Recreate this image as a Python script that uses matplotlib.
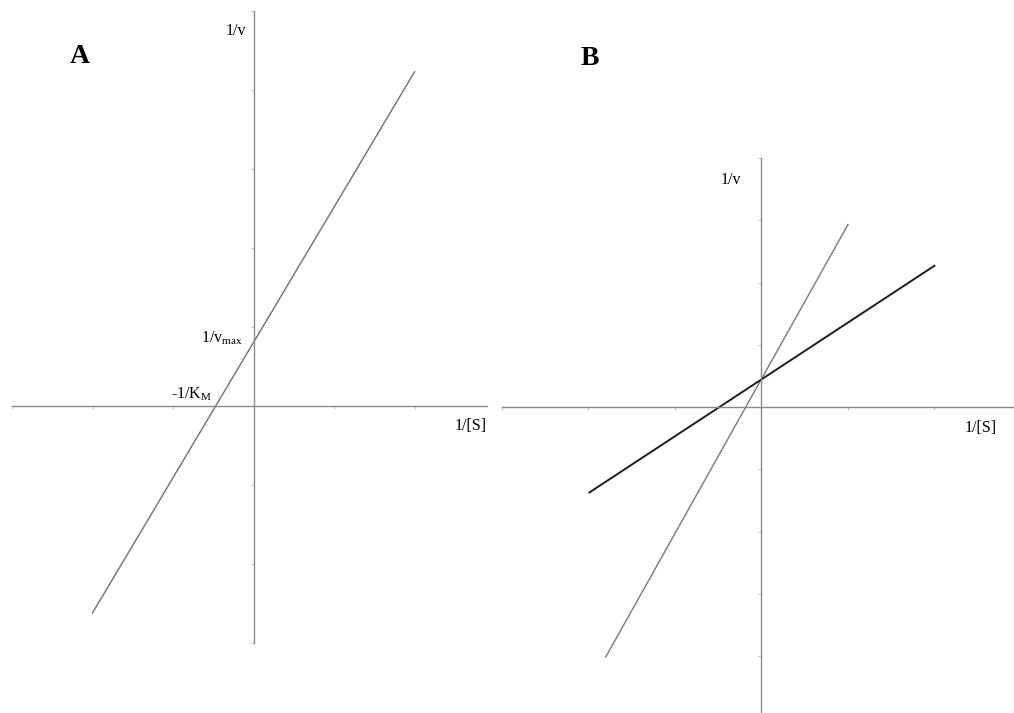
import numpy as np
import matplotlib
matplotlib.use("Agg")
import matplotlib.pyplot as plt

plt.rcParams['font.family'] = ['Liberation Serif', 'DejaVu Serif']
plt.rcParams['mathtext.fontset'] = 'custom'
plt.rcParams['mathtext.rm'] = 'Liberation Serif'
plt.rcParams['mathtext.it'] = 'Liberation Serif:italic'

# === Lineweaver-Burk lines ===
# panel A: one line, endpoints in (1/[S], 1/v) units
a_x = [-2.0, 2.0]
a_y = [-2.62, 4.23]
# panel B: steep grey line and shallow black line
b_grey_x = [-1.8, 1.0]
b_grey_y = [-4.01, 2.93]
b_black_x = [-1.99, 2.0]
b_black_y = [-1.37, 2.27]

axis_col = '#8a8a8a'
W, H = 1014, 713


def setup(ax, xlim, ylim):
    ax.set_xlim(*xlim)
    ax.set_ylim(*ylim)
    for s in ['top', 'right']:
        ax.spines[s].set_visible(False)
    for s in ['left', 'bottom']:
        ax.spines[s].set_position('zero')
        ax.spines[s].set_color(axis_col)
        ax.spines[s].set_linewidth(1.0)
    ax.set_xticks([t for t in range(int(np.ceil(xlim[0])), int(xlim[1]) + 1) if t != 0])
    ax.set_yticks([t for t in range(int(np.ceil(ylim[0])), int(ylim[1]) + 1) if t != 0])
    ax.tick_params(length=2, width=0.8, color='#c4c4c4', labelbottom=False, labelleft=False,
                   direction='out')
    ax.patch.set_alpha(0)


fig = plt.figure(figsize=(W / 100, H / 100), dpi=100)

# panel A placed in pixel coords
axA = fig.add_axes([12 / W, (H - 643) / H, 475 / W, 632 / H])
setup(axA, (-3.0, 2.9), (-3.0, 5.0))
axA.plot(a_x, a_y, color='#707070', lw=1.0)
axA.text(-2.16, 4.42, 'A', fontsize=20, fontweight='bold', ha='center', va='center')
axA.text(-0.09, 4.75, '1/v', fontsize=11.5, ha='right', va='center')
axA.text(-0.13, 0.86, r'1/v$_\mathrm{max}$', fontsize=11.5, ha='right', va='center')
axA.text(-0.52, 0.15, r'-1/K$_\mathrm{M}$', fontsize=11.5, ha='right', va='center')
axA.text(2.9, -0.25, '1/[S]', fontsize=11.5, ha='right', va='center')

# panel B
axB = fig.add_axes([502 / W, 0, 512 / W, 555 / H])
setup(axB, (-3.0, 2.92), (-4.91, 4.0))
axB.plot(b_grey_x, b_grey_y, color='#7a7a7a', lw=1.0)
axB.plot(b_black_x, b_black_y, color='#1e1e1e', lw=1.4)
axB.text(-1.98, 5.6, 'B', fontsize=20, fontweight='bold', ha='center', va='center')
axB.text(-0.24, 3.65, '1/v', fontsize=11.5, ha='right', va='center')
axB.text(2.72, -0.33, '1/[S]', fontsize=11.5, ha='right', va='center')

fig.savefig('out.png', dpi=100, facecolor='white')
